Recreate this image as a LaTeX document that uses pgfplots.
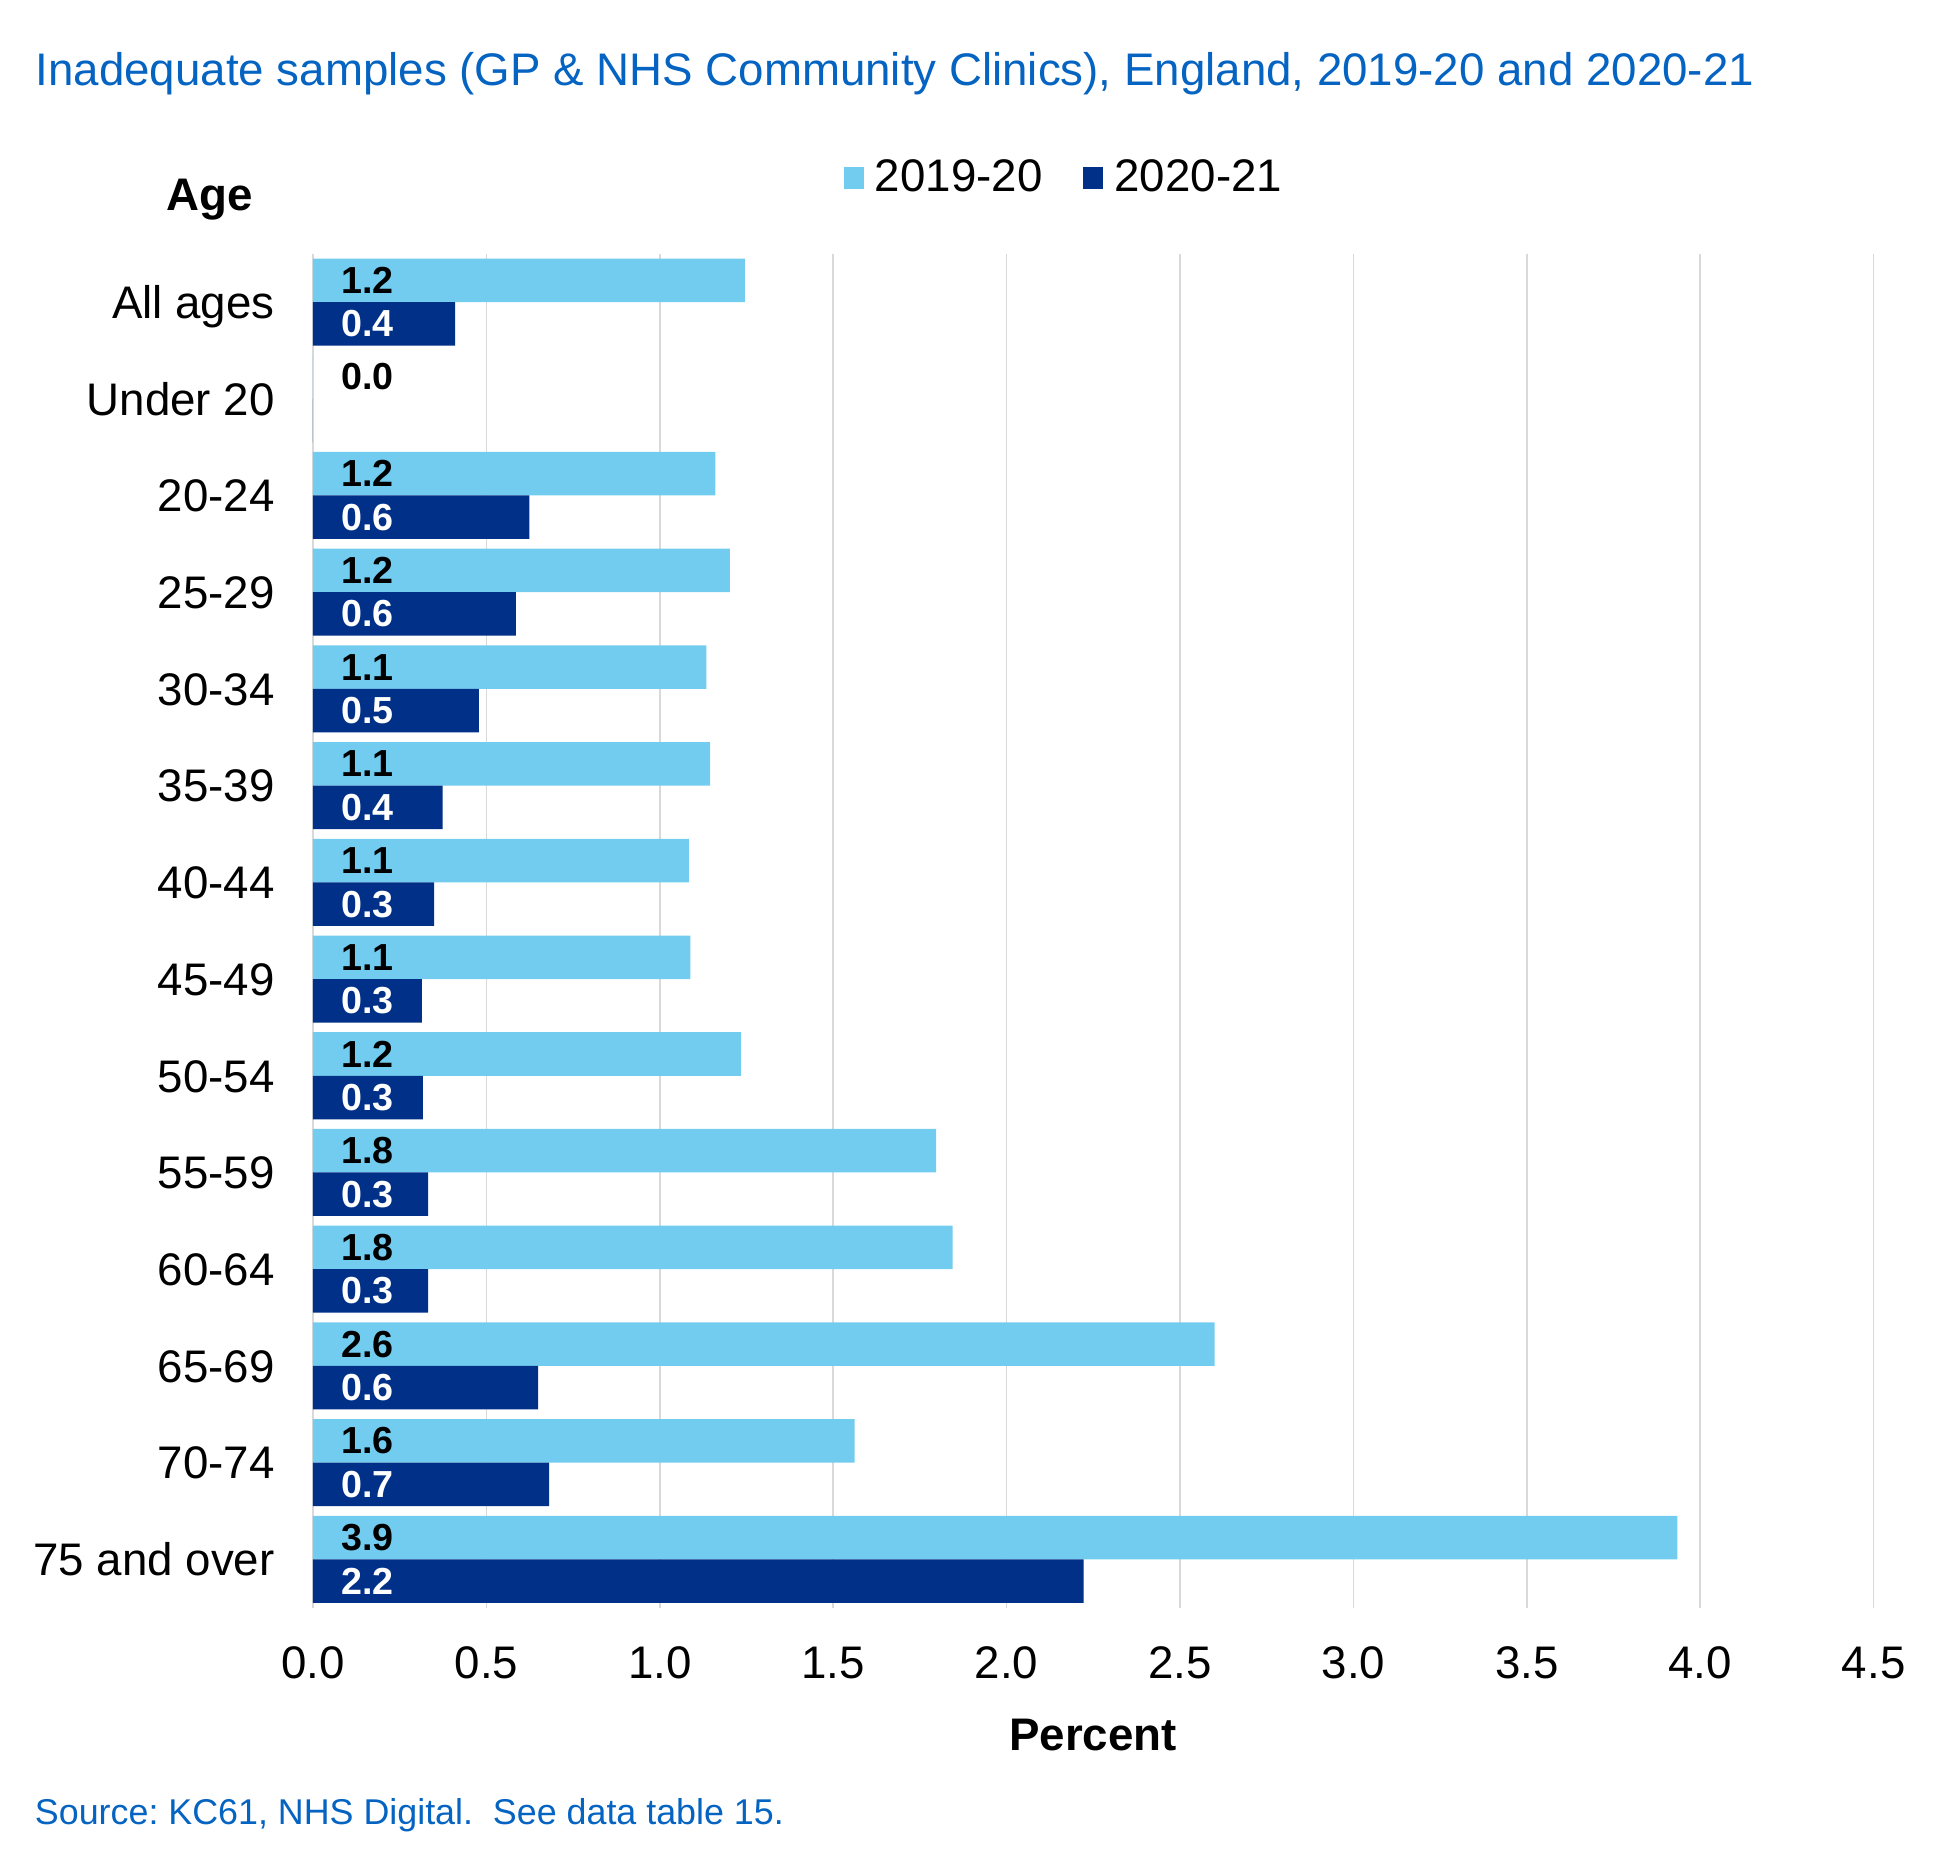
\documentclass[border=0pt]{standalone}
\usepackage{pgfplots}
\pgfplotsset{compat=1.18}
\usepackage{pgfplotstable}
\usepackage{fontspec}
\setmainfont{Liberation Sans}
\frenchspacing
\definecolor{lightbar}{RGB}{114,204,239}
\definecolor{darkbar}{RGB}{0,48,135}
\definecolor{titleblue}{RGB}{5,99,193}
\definecolor{gridgray}{RGB}{217,217,217}
\pgfplotstableread{
i x1 x2 t1 t2
0 1.245 0.410 1.2 0.4
1 0.000 0.000 0.0 0.0
2 1.160 0.624 1.2 0.6
3 1.202 0.585 1.2 0.6
4 1.134 0.478 1.1 0.5
5 1.145 0.374 1.1 0.4
6 1.084 0.349 1.1 0.3
7 1.088 0.314 1.1 0.3
8 1.234 0.317 1.2 0.3
9 1.797 0.332 1.8 0.3
10 1.844 0.332 1.8 0.3
11 2.600 0.649 2.6 0.6
12 1.562 0.681 1.6 0.7
13 3.934 2.222 3.9 2.2
}\data
\begin{document}
\begin{tikzpicture}
\path[use as bounding box] (-93.9pt,-78.1pt) rectangle (487.8pt,482.3pt);
\begin{axis}[
  at={(0pt,0pt)}, anchor=south west,
  scale only axis, width=468.2pt, height=406.2pt,
  xmin=0, xmax=4.5, ymin=-0.5, ymax=13.5,
  y dir=reverse,
  axis line style={draw=none},
  major tick length=0pt,
  xmajorgrids, grid style={draw=gridgray, line width=0.5pt},
  xtick={0,0.5,1,1.5,2,2.5,3,3.5,4,4.5},
  xticklabels={0.0,0.5,1.0,1.5,2.0,2.5,3.0,3.5,4.0,4.5},
  ytick={0,...,13},
  yticklabels={All ages,Under 20,20-24,25-29,30-34,35-39,40-44,45-49,50-54,55-59,60-64,65-69,70-74,75 and over},
  tick label style={font=\fontsize{13.7pt}{16pt}\selectfont},
  xticklabel style={anchor=base, yshift=-21.1pt},
  yticklabel style={anchor=base east, xshift=-8pt, yshift=-4.9pt},
  xbar, bar width=0.45, bar shift=0pt,
  legend style={draw=none, fill=none, inner sep=0pt, legend columns=-1,
    at={(axis description cs:0.3396,1.0559)}, anchor=west,
    font=\fontsize{13.7pt}{16pt}\selectfont,
    /tikz/every odd column/.append style={column sep=1.4pt},
    /tikz/every even column/.append style={column sep=10.2pt}},
  legend image code/.code={\fill[#1] (0pt,-3.3pt) rectangle (6pt,3.3pt);},
]
\addplot[draw=none, fill=lightbar] table[x=x1, y expr=\thisrow{i}-0.225] {\data};
\addlegendentry{2019-20}
\addplot[draw=none, fill=darkbar] table[x=x2, y expr=\thisrow{i}+0.225] {\data};
\addlegendentry{2020-21}
\addplot[draw=none, mark=none, forget plot, nodes near coords, point meta=explicit symbolic,
  every node near coord/.style={anchor=west, inner sep=0pt, text=black, font=\bfseries\fontsize{11.3pt}{13pt}\selectfont}]
  table[x expr=0.08, y expr=\thisrow{i}-0.225, meta=t1] {\data};
\addplot[draw=none, mark=none, forget plot, nodes near coords, point meta=explicit symbolic,
  every node near coord/.style={anchor=west, inner sep=0pt, text=white, font=\bfseries\fontsize{11.3pt}{13pt}\selectfont}]
  table[x expr=0.08, y expr=\thisrow{i}+0.225, meta=t2] {\data};
\end{axis}
\node[anchor=base west, inner sep=0pt, text=titleblue, font=\fontsize{13.7pt}{16pt}\selectfont] at (-83.4pt,456.5pt) {Inadequate samples (GP \& NHS Community Clinics), England, 2019-20 and 2020-21};
\node[anchor=base, inner sep=0pt, font=\bfseries\fontsize{13.7pt}{16pt}\selectfont] at (-30.9pt,419.1pt) {Age};
\node[anchor=base, inner sep=0pt, font=\bfseries\fontsize{13.7pt}{16pt}\selectfont] at (234pt,-42.9pt) {Percent};
\node[anchor=base west, inner sep=0pt, text=titleblue, font=\fontsize{10.75pt}{12pt}\selectfont] at (-83.6pt,-64.9pt) {Source: KC61, NHS Digital.\ \ See data table 15.};
\end{tikzpicture}
\end{document}
